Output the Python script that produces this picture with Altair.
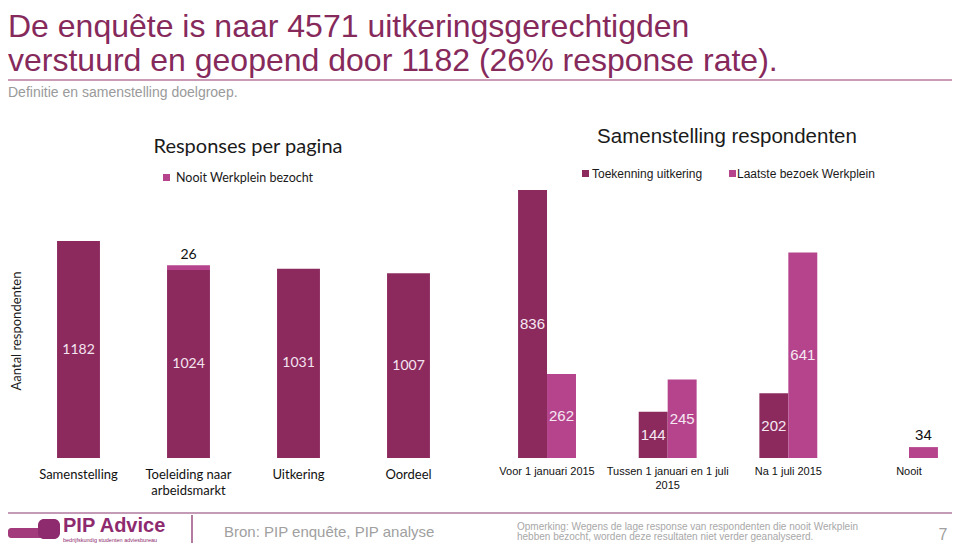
import altair as alt
import pandas as pd

# ---------------- data ----------------
left_categories = ["Samenstelling", "Toeleiding naar arbeidsmarkt", "Uitkering", "Oordeel"]
left_labels = ["Samenstelling", "Toeleiding naar\narbeidsmarkt", "Uitkering", "Oordeel"]
left_respons = [1182, 1024, 1031, 1007]
left_nooit = [0, 26, 0, 0]

right_categories = ["Voor 1 januari 2015", "Tussen 1 januari en 1 juli 2015", "Na 1 juli 2015", "Nooit"]
right_labels = ["Voor 1 januari 2015", "Tussen 1 januari en 1 juli\n2015", "Na 1 juli 2015", "Nooit"]
series = ["Toekenning uitkering", "Laatste bezoek Werkplein"]
toekenning = [836, 144, 202, None]
laatste_bezoek = [262, 245, 641, 34]

# ---------------- style ----------------
DARK = "#8C2A5E"
PINK = "#B5448D"
TITLE_C = "#86295B"
GREY = "#9A9A9A"
LATO = "Lato"
SANS = "Liberation Sans"

left_df = pd.DataFrame({
    "cat": left_categories,
    "label": left_labels,
    "resp": left_respons,
    "nooit": left_nooit,
})
left_df["top"] = left_df["resp"] + left_df["nooit"]
left_df["mid"] = left_df["resp"] / 2
left_df["base"] = 0
nooit_df = left_df[left_df["nooit"] > 0]

rows = []
for c, lab, a, b in zip(right_categories, right_labels, toekenning, laatste_bezoek):
    for s, v in zip(series, [a, b]):
        if v is not None:
            rows.append({"cat": c, "label": lab, "series": s, "value": v, "mid": v / 2})
right_df = pd.DataFrame(rows)
right_in = right_df[right_df["value"] > 100]
right_out = right_df[right_df["value"] <= 100]
right_cat_df = pd.DataFrame({"cat": right_categories, "label": right_labels, "base": [0] * 4})

one = pd.DataFrame({"k": [0]})

# ---------------- scales ----------------
lx = alt.Scale(domain=left_categories, range=[15.5, 455.5], paddingInner=0.61, paddingOuter=0.305)
ly = alt.Scale(domain=[0, 1182], range=[450, 233], nice=False, zero=True)
rx = alt.Scale(domain=right_categories, range=[478.7, 961.3], paddingInner=0.52, paddingOuter=0.26)
ry = alt.Scale(domain=[0, 836], range=[450, 182], nice=False, zero=True)
ro = alt.Scale(domain=series, paddingInner=0, paddingOuter=0)
col = alt.Scale(domain=series, range=[DARK, PINK])

LX = alt.X("cat:N", scale=lx, axis=None, sort=left_categories)
RX = alt.X("cat:N", scale=rx, axis=None, sort=right_categories)
RO = alt.XOffset("series:N", scale=ro, sort=series)

# ---------------- left panel ----------------
lbase = alt.Chart(left_df)
l_bars = lbase.mark_bar(color=DARK).encode(x=LX, y=alt.Y("resp:Q", scale=ly, axis=None))
l_nooit = alt.Chart(nooit_df).mark_bar(color=PINK).encode(
    x=LX, y=alt.Y("resp:Q", scale=ly, axis=None), y2="top:Q")
l_vals = lbase.mark_text(color="#F4E4EF", font=LATO, fontSize=14).encode(
    x=LX, y=alt.Y("mid:Q", scale=ly, axis=None), text="resp:Q")
l_nooit_lab = alt.Chart(nooit_df).mark_text(color="#111111", font=LATO, fontSize=14,
                                            baseline="bottom", dy=-3).encode(
    x=LX, y=alt.Y("top:Q", scale=ly, axis=None), text="nooit:Q")
l_cats = lbase.mark_text(color="#111111", font=LATO, fontSize=13, baseline="top", dy=11,
                         lineBreak="\n", lineHeight=16).encode(
    x=LX, y=alt.Y("base:Q", scale=ly, axis=None), text="label:N")
left = alt.layer(l_bars, l_nooit, l_vals, l_nooit_lab, l_cats)

# ---------------- right panel ----------------
r_bars = alt.Chart(right_df).mark_bar().encode(
    x=RX, xOffset=RO, y=alt.Y("value:Q", scale=ry, axis=None),
    color=alt.Color("series:N", scale=col, legend=None))
r_vals = alt.Chart(right_in).mark_text(color="#F6E8F2", font=SANS, fontSize=15).encode(
    x=RX, xOffset=RO, y=alt.Y("mid:Q", scale=ry, axis=None), text="value:Q")
r_out = alt.Chart(right_out).mark_text(color="#111111", font=SANS, fontSize=15,
                                       baseline="bottom", dy=-4).encode(
    x=RX, xOffset=RO, y=alt.Y("value:Q", scale=ry, axis=None), text="value:Q")
r_cats = alt.Chart(right_cat_df).mark_text(color="#111111", font=SANS, fontSize=11, baseline="top",
                                           dy=8, lineBreak="\n", lineHeight=14).encode(
    x=RX, y=alt.Y("base:Q", scale=ry, axis=None), text="label:N")
right = alt.layer(r_bars, r_vals, r_out, r_cats)

# ---------------- decorations / text ----------------
def txt(s, x, y, size, color, font=SANS, align="left", baseline="alphabetic", angle=0,
        weight="normal", line_height=None):
    kw = dict(align=align, baseline=baseline, fontSize=size, color=color, font=font,
              fontWeight=weight, angle=angle)
    if line_height is not None:
        kw["lineBreak"] = "\n"
        kw["lineHeight"] = line_height
    return alt.Chart(one).mark_text(**kw).encode(
        x=alt.value(x), y=alt.value(y), text=alt.value(s))

def rect(x1, x2, y1, y2, color, radius=0):
    return alt.Chart(one).mark_rect(color=color, cornerRadius=radius).encode(
        x=alt.value(x1), x2=alt.value(x2), y=alt.value(y1), y2=alt.value(y2))

def hrule(x1, x2, y, color, w):
    return alt.Chart(one).mark_rule(color=color, strokeWidth=w).encode(
        x=alt.value(x1), x2=alt.value(x2), y=alt.value(y))

def vrule(x, y1, y2, color, w):
    return alt.Chart(one).mark_rule(color=color, strokeWidth=w).encode(
        x=alt.value(x), y=alt.value(y1), y2=alt.value(y2))

deco = [
    txt("De enquête is naar 4571 uitkeringsgerechtigden\n"
        "verstuurd en geopend door 1182 (26% response rate).",
        0, 4, 32, TITLE_C, baseline="top", line_height=34),
    hrule(0, 944, 72, "#B77A9F", 1.5),
    txt("Definitie en samenstelling doelgroep.", 0, 89, 14, GREY),
    # left title + legend
    txt("Responses per pagina", 240, 145, 20, "#1A1A1A", font=LATO, align="center"),
    rect(155, 162, 166, 173, PINK),
    txt("Nooit Werkplein bezocht", 168, 170, 12.5, "#1A1A1A", font=LATO, baseline="middle"),
    # right title + legend
    txt("Samenstelling respondenten", 719, 135, 20.5, "#1A1A1A", align="center"),
    rect(574, 581, 162, 169, DARK),
    txt("Toekenning uitkering", 584, 166, 12, "#1A1A1A", baseline="middle"),
    rect(721, 728, 162, 169, PINK),
    txt("Laatste bezoek Werkplein", 729, 166, 12, "#1A1A1A", baseline="middle"),
    # y title
    txt("Aantal respondenten", 9, 323, 13, "#1A1A1A", font=LATO, align="center",
        baseline="middle", angle=270),
    # footer
    hrule(0, 944, 505, "#B07A9E", 1.5),
    vrule(184, 507, 535, "#9B4F80", 1.5),
    rect(0, 36, 520, 530, "#A23A7B", 3),
    rect(30, 52, 511, 531, "#8E2B6E", 6),
    txt("PIP Advice", 55, 518, 20, "#8E2B6E", baseline="middle", weight="bold"),
    txt("bedrijfskundig studenten adviesbureau", 55, 532, 5.5, "#8E2B6E", baseline="middle"),
    txt("Bron: PIP enquête, PIP analyse", 216, 524, 15, "#A0A0A0", baseline="middle"),
    txt("Opmerking: Wegens de lage response van respondenten die nooit Werkplein\n"
        "hebben bezocht, worden deze resultaten niet verder geanalyseerd.",
        509, 519, 10, "#A8A8A8", baseline="middle", line_height=10),
    txt("7", 935, 527, 16, "#A0A0A0", align="center", baseline="middle"),
]

chart = alt.layer(*deco, left, right).resolve_scale(
    x="independent", y="independent"
).properties(
    width=944, height=535, padding=0,
    autosize=alt.AutoSizeParams(type="none"),
).configure_view(stroke=None)

chart.save("out.html", embed_options={"renderer": "svg", "actions": False})
